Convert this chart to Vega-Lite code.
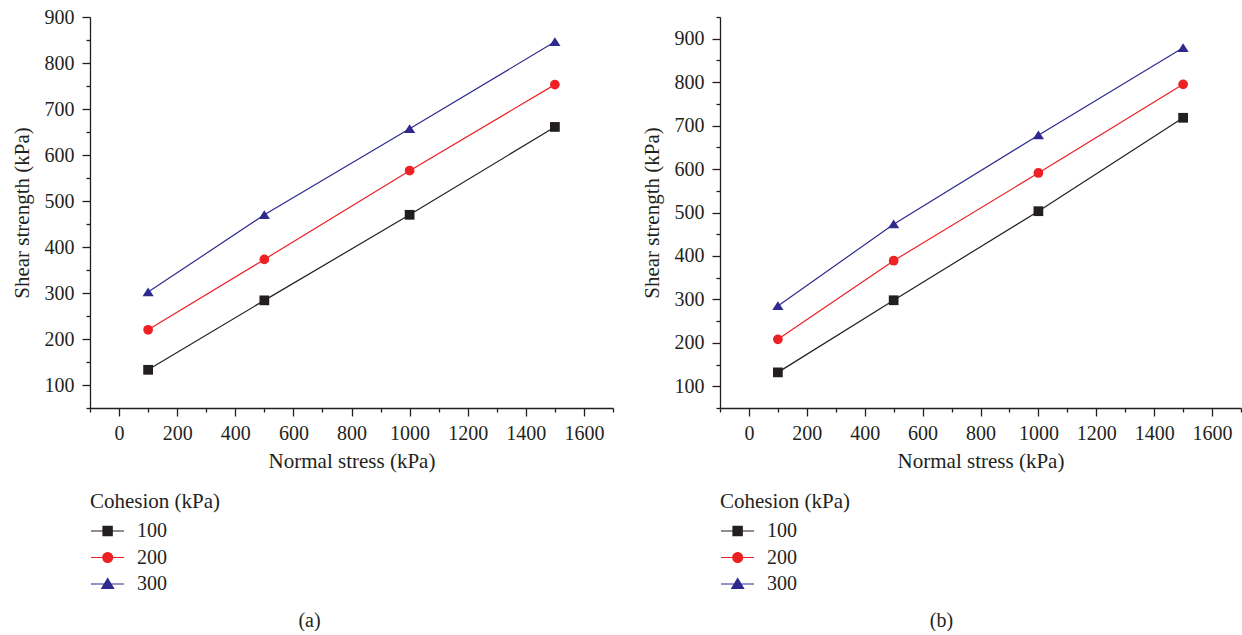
{
  "$schema": "https://vega.github.io/schema/vega-lite/v6.json",
  "padding": {"left": 11, "top": 7, "right": 0, "bottom": 0},
  "background": "white",
  "config": {
    "font": "Liberation Serif",
    "view": {"stroke": null},
    "axis": {
      "domainColor": "#231f20", "domainWidth": 1.3, "tickColor": "#231f20", "tickWidth": 1.3,
      "labelFont": "Liberation Serif", "labelFontSize": 20, "labelColor": "#231f20",
      "titleFont": "Liberation Serif", "titleFontSize": 21, "titleFontWeight": "normal", "titleColor": "#231f20",
      "grid": false, "labelFlush": false, "labelOverlap": false, "format": "d"
    },
    "legend": {
      "orient": "none", "legendX": 0, "legendY": 474,
      "titleFont": "Liberation Serif", "titleFontSize": 21, "titleFontWeight": "normal", "titleColor": "#231f20", "titlePadding": 8,
      "labelFont": "Liberation Serif", "labelFontSize": 20, "labelColor": "#231f20", "labelOffset": 25,
      "symbolSize": 400, "rowPadding": 5.5, "symbolStrokeWidth": 1.2
    },
    "title": {"font": "Liberation Serif", "fontSize": 20, "fontWeight": "normal", "color": "#231f20"}
  },
  "datasets": {
    "a": [
      {"stress": 100, "strength": 133, "cohesion": "100"},
      {"stress": 500, "strength": 284, "cohesion": "100"},
      {"stress": 1000, "strength": 470, "cohesion": "100"},
      {"stress": 1500, "strength": 661, "cohesion": "100"},
      {"stress": 100, "strength": 220, "cohesion": "200"},
      {"stress": 500, "strength": 373, "cohesion": "200"},
      {"stress": 1000, "strength": 566, "cohesion": "200"},
      {"stress": 1500, "strength": 753, "cohesion": "200"},
      {"stress": 100, "strength": 302, "cohesion": "300"},
      {"stress": 500, "strength": 470, "cohesion": "300"},
      {"stress": 1000, "strength": 657, "cohesion": "300"},
      {"stress": 1500, "strength": 846, "cohesion": "300"}
    ],
    "b": [
      {"stress": 100, "strength": 132, "cohesion": "100"},
      {"stress": 500, "strength": 298, "cohesion": "100"},
      {"stress": 1000, "strength": 503, "cohesion": "100"},
      {"stress": 1500, "strength": 718, "cohesion": "100"},
      {"stress": 100, "strength": 208, "cohesion": "200"},
      {"stress": 500, "strength": 389, "cohesion": "200"},
      {"stress": 1000, "strength": 591, "cohesion": "200"},
      {"stress": 1500, "strength": 795, "cohesion": "200"},
      {"stress": 100, "strength": 285, "cohesion": "300"},
      {"stress": 500, "strength": 473, "cohesion": "300"},
      {"stress": 1000, "strength": 678, "cohesion": "300"},
      {"stress": 1500, "strength": 879, "cohesion": "300"}
    ]
  },
  "bounds": "flush",
  "spacing": 107,
  "resolve": {"legend": {"color": "independent"}},
  "hconcat": [
    {
      "width": 523, "height": 391,
      "data": {"name": "a"},
      "title": {"text": "(a)", "orient": "bottom", "anchor": "middle", "dx": -42, "offset": 17},
      "encoding": {
        "x": {"field": "stress", "type": "quantitative",
          "scale": {"domain": [-100, 1700], "nice": false, "zero": false},
          "axis": {"title": "Normal stress (kPa)", "values": [-100,0,100,200,300,400,500,600,700,800,900,1000,1100,1200,1300,1400,1500,1600,1700],
            "labelExpr": "datum.value % 200 === 0 ? datum.label : ''",
            "tickSize": {"condition": {"test": "datum.value % 200 === 0", "value": 8}, "value": 4},
            "labelPadding": 7, "titlePadding": 7}},
        "y": {"field": "strength", "type": "quantitative",
          "scale": {"domain": [50, 900], "nice": false, "zero": false},
          "axis": {"title": "Shear strength (kPa)", "values": [50,100,150,200,250,300,350,400,450,500,550,600,650,700,750,800,850,900],
            "labelExpr": "datum.value % 100 === 0 ? datum.label : ''",
            "tickSize": {"condition": {"test": "datum.value % 100 === 0", "value": 8}, "value": 4},
            "labelPadding": 8, "titlePadding": 12}},
        "color": {"field": "cohesion", "type": "nominal",
          "scale": {"domain": ["100","200","300"], "range": ["#231f20","#ed2024","#2e2a8e"]},
          "legend": {"title": "Cohesion (kPa)",
            "encode": {"symbols": {"update": {
              "shape": {"signal": "datum.value === '100' ? 'M-1,0H2.3M0.2,-0.46H1.12V0.46H0.2Z' : datum.value === '200' ? 'M-1,0H2.3M1.16,0A0.49,0.49 0 1,1 0.18,0A0.49,0.49 0 1,1 1.16,0Z' : 'M-1,0H2.3M0.67,-0.55L1.26,0.43L0.08,0.43Z'"},
              "strokeWidth": {"value": 1.2}, "opacity": {"value": 1}, "fillOpacity": {"value": 1}}}}}}
      },
      "layer": [
        {"mark": {"type": "line", "strokeWidth": 1.2}},
        {"mark": {"type": "point", "filled": true, "opacity": 1, "size": 95},
          "encoding": {"shape": {"field": "cohesion", "type": "nominal",
            "scale": {"domain": ["100","200","300"], "range": ["square","circle","M0,-0.95L1.15,0.85L-1.15,0.85Z"]},
            "legend": null}}}
      ]
    },
    {
      "width": 521, "height": 391,
      "data": {"name": "b"},
      "title": {"text": "(b)", "orient": "bottom", "anchor": "middle", "dx": -39, "offset": 17},
      "encoding": {
        "x": {"field": "stress", "type": "quantitative",
          "scale": {"domain": [-100, 1700], "nice": false, "zero": false},
          "axis": {"title": "Normal stress (kPa)", "values": [-100,0,100,200,300,400,500,600,700,800,900,1000,1100,1200,1300,1400,1500,1600,1700],
            "labelExpr": "datum.value % 200 === 0 ? datum.label : ''",
            "tickSize": {"condition": {"test": "datum.value % 200 === 0", "value": 8}, "value": 4},
            "labelPadding": 7, "titlePadding": 7}},
        "y": {"field": "strength", "type": "quantitative",
          "scale": {"domain": [50, 950], "nice": false, "zero": false},
          "axis": {"title": "Shear strength (kPa)", "values": [50,100,150,200,250,300,350,400,450,500,550,600,650,700,750,800,850,900,950],
            "labelExpr": "datum.value % 100 === 0 ? datum.label : ''",
            "tickSize": {"condition": {"test": "datum.value % 100 === 0", "value": 8}, "value": 4},
            "labelPadding": 8, "titlePadding": 12}},
        "color": {"field": "cohesion", "type": "nominal",
          "scale": {"domain": ["100","200","300"], "range": ["#231f20","#ed2024","#2e2a8e"]},
          "legend": {"title": "Cohesion (kPa)",
            "encode": {"symbols": {"update": {
              "shape": {"signal": "datum.value === '100' ? 'M-1,0H2.3M0.2,-0.46H1.12V0.46H0.2Z' : datum.value === '200' ? 'M-1,0H2.3M1.16,0A0.49,0.49 0 1,1 0.18,0A0.49,0.49 0 1,1 1.16,0Z' : 'M-1,0H2.3M0.67,-0.55L1.26,0.43L0.08,0.43Z'"},
              "strokeWidth": {"value": 1.2}, "opacity": {"value": 1}, "fillOpacity": {"value": 1}}}}}}
      },
      "layer": [
        {"mark": {"type": "line", "strokeWidth": 1.2}},
        {"mark": {"type": "point", "filled": true, "opacity": 1, "size": 95},
          "encoding": {"shape": {"field": "cohesion", "type": "nominal",
            "scale": {"domain": ["100","200","300"], "range": ["square","circle","M0,-0.95L1.15,0.85L-1.15,0.85Z"]},
            "legend": null}}}
      ]
    }
  ]
}
